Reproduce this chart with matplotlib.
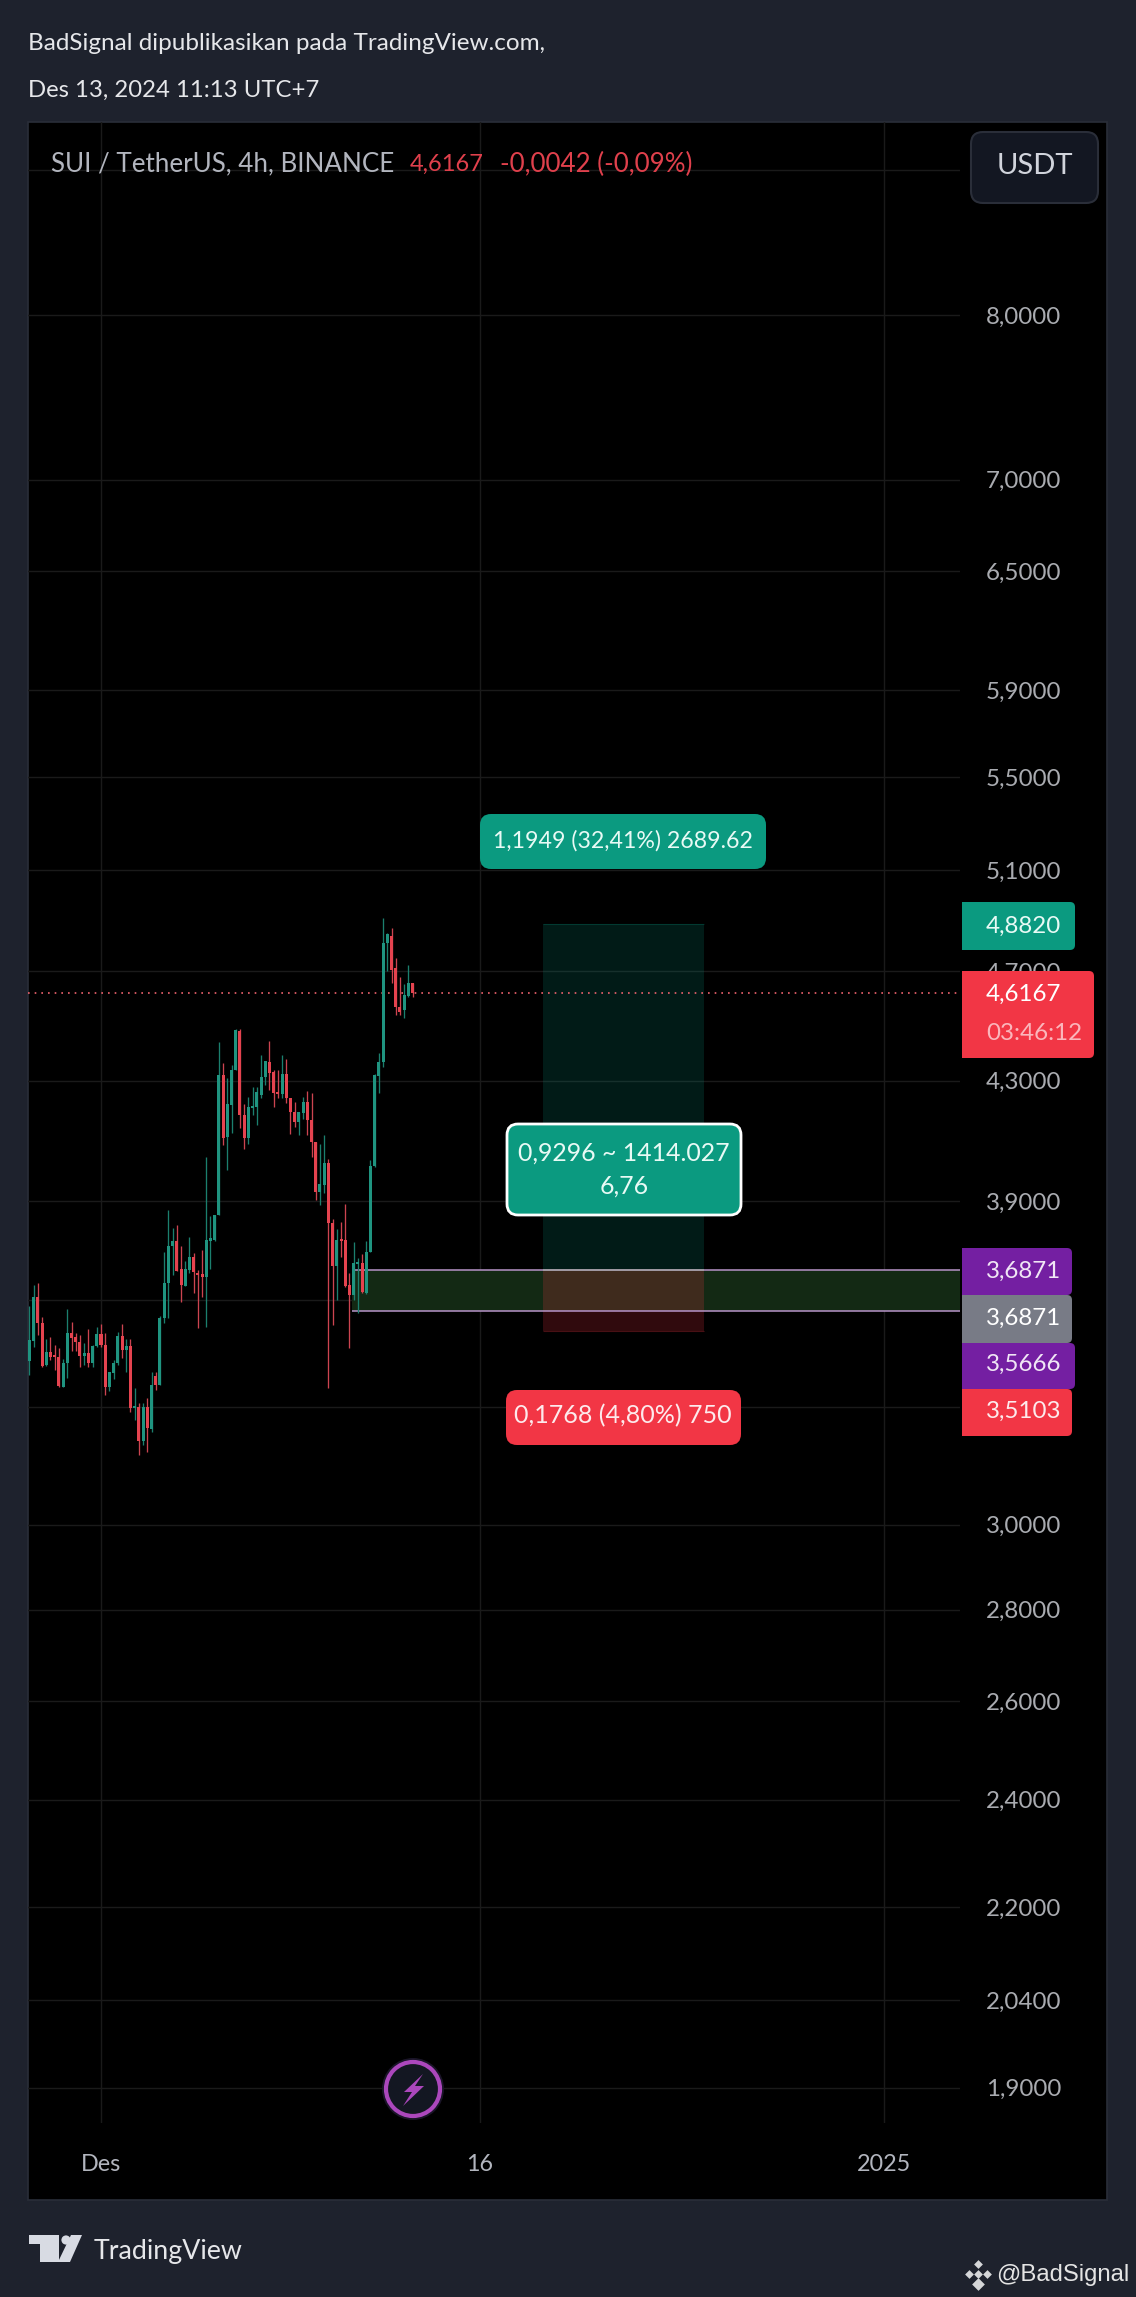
"""SUI / TetherUS 4h candles with a long position drawing, TradingView dark style"""

import matplotlib
matplotlib.use('Agg')

import matplotlib.pyplot as plt
from matplotlib.patches import Rectangle, FancyBboxPatch, Circle, Polygon

plt.rcParams['font.family'] = ['Lato', 'DejaVu Sans']

W, H = 1136, 2297

# candles, 4h each, index 0 is the 1st of December
first_candle = -17
opens = [3.426, 3.482, 3.609, 3.533, 3.415, 3.451, 3.443, 3.437, 3.355, 3.421,
         3.505, 3.493, 3.479, 3.440, 3.449, 3.421, 3.468, 3.502, 3.471, 3.355,
         3.393, 3.421, 3.496, 3.457, 3.468, 3.298, 3.301, 3.209, 3.301, 3.243,
         3.385, 3.360, 3.548, 3.649, 3.760, 3.776, 3.691, 3.640, 3.688, 3.727,
         3.679, 3.676, 3.667, 3.776, 3.779, 3.856, 4.320, 4.108, 4.216, 4.337,
         4.476, 4.182, 4.105, 4.206, 4.209, 4.250, 4.312, 4.365, 4.330, 4.260,
         4.253, 4.323, 4.240, 4.192, 4.158, 4.189, 4.226, 4.165, 4.091, 3.929,
         3.951, 4.022, 3.831, 3.700, 3.782, 3.779, 3.643, 3.614, 3.706, 3.709,
         3.620, 3.742, 4.012, 4.316, 4.365, 4.807, 4.834, 4.711, 4.564, 4.553,
         4.605, 4.654]
highs = [3.583, 3.643, 3.650, 3.551, 3.488, 3.493, 3.471, 3.462, 3.432, 3.574,
         3.536, 3.505, 3.499, 3.477, 3.516, 3.471, 3.522, 3.530, 3.505, 3.396,
         3.429, 3.507, 3.530, 3.488, 3.488, 3.352, 3.312, 3.312, 3.325, 3.396,
         3.396, 3.552, 3.742, 3.872, 3.816, 3.825, 3.760, 3.715, 3.788, 3.739,
         3.688, 3.748, 4.042, 3.853, 3.856, 4.437, 4.361, 4.309, 4.354, 4.484,
         4.484, 4.219, 4.243, 4.277, 4.277, 4.390, 4.368, 4.440, 4.337, 4.337,
         4.390, 4.375, 4.240, 4.226, 4.192, 4.243, 4.264, 4.257, 4.091, 4.085,
         4.115, 4.035, 3.844, 3.813, 3.835, 3.891, 3.679, 3.773, 3.724, 3.736,
         3.776, 4.032, 4.323, 4.397, 4.905, 4.846, 4.866, 4.750, 4.676, 4.650,
         4.723, 4.654]
lows = [3.388, 3.465, 3.499, 3.409, 3.412, 3.429, 3.401, 3.355, 3.355, 3.379,
        3.454, 3.454, 3.409, 3.415, 3.409, 3.409, 3.465, 3.465, 3.331, 3.342,
        3.377, 3.415, 3.434, 3.396, 3.288, 3.266, 3.175, 3.201, 3.183, 3.235,
        3.347, 3.360, 3.533, 3.548, 3.673, 3.685, 3.594, 3.640, 3.679, 3.620,
        3.519, 3.609, 3.522, 3.691, 3.776, 3.856, 4.082, 3.999, 4.121, 4.337,
        4.138, 4.068, 4.085, 4.182, 4.148, 4.240, 4.284, 4.267, 4.209, 4.240,
        4.240, 4.223, 4.118, 4.141, 4.115, 4.168, 4.115, 4.042, 3.903, 3.888,
        3.926, 3.350, 3.527, 3.600, 3.727, 3.638, 3.462, 3.600, 3.562, 3.620,
        3.617, 3.742, 4.009, 4.257, 4.347, 4.699, 4.654, 4.534, 4.534, 4.523,
        4.601, 4.601]
closes = [3.485, 3.609, 3.533, 3.412, 3.451, 3.437, 3.437, 3.358, 3.421, 3.505,
          3.491, 3.479, 3.440, 3.449, 3.421, 3.468, 3.502, 3.471, 3.355, 3.396,
          3.421, 3.496, 3.457, 3.468, 3.298, 3.304, 3.209, 3.301, 3.245, 3.360,
          3.360, 3.548, 3.649, 3.760, 3.776, 3.685, 3.643, 3.691, 3.727, 3.682,
          3.673, 3.667, 3.779, 3.785, 3.856, 4.320, 4.105, 4.219, 4.337, 4.480,
          4.182, 4.105, 4.209, 4.212, 4.260, 4.312, 4.368, 4.326, 4.257, 4.253,
          4.323, 4.240, 4.192, 4.158, 4.192, 4.226, 4.165, 4.091, 3.929, 3.954,
          4.022, 3.831, 3.700, 3.779, 3.776, 3.640, 3.614, 3.709, 3.712, 3.623,
          3.742, 4.012, 4.320, 4.365, 4.807, 4.842, 4.703, 4.564, 4.545, 4.609,
          4.654, 4.6167]

# price scale and time scale, three labels sit behind tags in the original
price_ticks = [1.9, 2.04, 2.2, 2.4, 2.6, 2.8, 3.0, 3.3, 3.6, 3.9, 4.3, 4.7,
               5.1, 5.5, 5.9, 6.5, 7.0, 8.0, 9.0]
price_labels = ['1,9000', '2,0400', '2,2000', '2,4000', '2,6000', '2,8000', '3,0000', '', '',
                '3,9000', '4,3000', '4,7000', '5,1000', '5,5000', '5,9000', '6,5000',
                '7,0000', '8,0000', '']
time_ticks = [0, 90, 186]
time_labels = ['Des', '16', '2025']

# drawing levels
last_price = 4.6167
target_price = 4.8820
entry_price = 3.6871
stop_price = 3.5103
zone_low = 3.5666
zone_start = 59.6
position_start, position_end = 105, 143.2

# colours
bg_col = '#1e222d'
grid_col = '#1a1a1a'
up_col, up_wick = '#1f9480', '#1b7f6e'
down_col, down_wick = '#e5434f', '#cc4450'
green_col = '#0b9a80'
red_col = '#f23645'
purple_col = '#741fa2'
axis_col = '#a9abb0'

axis_fs = 17.4
text_fs = 16.7

fig = plt.figure(figsize=(W/100, H/100), facecolor=bg_col, dpi=100)


def pixel_axes(zorder):
    a = fig.add_axes([0, 0, 1, 1], zorder=zorder)
    a.set_xlim(0, W)
    a.set_ylim(H, 0)
    a.axis('off')
    return a


# black panel under the chart
back = pixel_axes(0)
back.add_patch(Rectangle((28, 122), 1079, 2078, fc='k', ec='#2a2e39', lw=1.2))

# chart pane, spans x 28..960 and y 122..2123 in pixels
ax = fig.add_axes([28/W, 1 - 2123/H, 932/W, 2001/H], zorder=1)
ax.patch.set_visible(False)
ax.set_yscale('log')
ax.set_xlim(-17.34, 204.0)
ax.set_ylim(1.8466, 9.355)
ax.set_yticks(price_ticks)
ax.set_yticklabels(price_labels)
ax.minorticks_off()
ax.set_xticks(time_ticks)
ax.set_xticklabels(time_labels)
ax.yaxis.tick_right()
ax.tick_params(axis='y', length=0, pad=18.7, labelsize=axis_fs, labelcolor=axis_col)
ax.tick_params(axis='x', length=0, pad=22, labelsize=16.8, labelcolor='#b2b5be')
ax.grid(True, color=grid_col, lw=1.0)
ax.set_axisbelow(True)
for s in ax.spines.values():
    s.set_visible(False)

# zone and position tool
ax.axhspan(zone_low, entry_price, xmin=(zone_start + 17.34)/221.34, fc='#132914', ec='none', zorder=2)
ax.fill_between([position_start, position_end], entry_price, target_price,
                color='#089981', alpha=0.18, lw=0, zorder=2.1)
ax.fill_between([position_start, position_end], stop_price, entry_price,
                color=red_col, alpha=0.2, lw=0, zorder=2.1)
ax.hlines(target_price, position_start, position_end, color='#089981', alpha=0.25, lw=0.8, zorder=2.2)
ax.hlines(stop_price, position_start, position_end, color=red_col, alpha=0.3, lw=0.8, zorder=2.2)
ax.hlines([entry_price, zone_low], zone_start, 204, color='#b794c8', lw=1.1, zorder=2.3)
ax.hlines(entry_price, position_start, position_end, color='#a3a3a3', lw=1.1, zorder=2.4)

ax.axhline(last_price, color='#f0636e', lw=1.2, ls=(0, (1, 3)), zorder=2.5)

# candles
idx = list(range(first_candle, first_candle + len(closes)))
for i, o, h, l, c in zip(idx, opens, highs, lows, closes):
    rising = c >= o
    ax.vlines(i, l, h, color=up_wick if rising else down_wick, lw=0.95, zorder=3)
    ax.bar(i, abs(c - o), bottom=min(o, c), width=0.72,
           color=up_col if rising else down_col, lw=0, zorder=3.1)

# everything that floats on top, in pixels
ov = pixel_axes(2)


def pill(x0, y0, x1, y1, col, r=10, ec='none', lw=0):
    ov.add_patch(FancyBboxPatch((x0, y0), x1 - x0, y1 - y0, boxstyle=f"round,pad=0,rounding_size={r}",
                                fc=col, ec=ec, lw=lw))


def tag(y0, y1, x1, col):
    # price tag, square on the left
    pill(962, y0, x1, y1, col, r=5)
    ov.add_patch(Rectangle((962, y0), 20, y1 - y0, fc=col, ec='none'))


def label(x, y, s, col='w', fs=text_fs, ha='left', **kw):
    ov.text(x, y, s, color=col, fontsize=fs, ha=ha, va='center', **kw)


# header and legend
label(28, 43, 'BadSignal dipublikasikan pada TradingView.com,', '#e6e7ea', 17.5)
label(28, 90, 'Des 13, 2024 11:13 UTC+7', '#e6e7ea', 17.2)
label(51, 164, 'SUI / TetherUS, 4h, BINANCE', '#b2b5be', 18.7)
label(410, 164, '4,6167', '#e0404c', 17.0)
label(500, 164, '-0,0042 (-0,09%)', '#e0404c', 18.7)

pill(971, 132, 1098, 203, '#131722', r=12, ec='#2a2e39', lw=1.5)
label(1035, 166, 'USDT', '#d1d4dc', 21, ha='center')

# position labels
pill(480, 814, 766, 869, green_col, r=11)
label(623, 841, '1,1949 (32,41%) 2689.62', '#e8faf5', text_fs, ha='center')
pill(507, 1124, 741, 1215, green_col, r=11, ec='w', lw=2)
label(624, 1153, '0,9296 ~ 1414.027', '#e8faf5', 17.9, ha='center')
label(624, 1186, '6,76', '#e8faf5', 17.9, ha='center')
pill(506, 1390, 741, 1445, red_col, r=11)
label(623, 1416, '0,1768 (4,80%) 750', '#fdeaec', 18, ha='center')

# price tags
tag(902, 950, 1075, green_col)
label(986, 926, '4,8820', '#e8faf5', axis_fs)
tag(971, 1058, 1094, red_col)
label(986, 994, '4,6167', 'w', axis_fs)
label(986, 1033, '03:46:12', '#fbb6bc', axis_fs)
tag(1248, 1295, 1072, purple_col)
label(986, 1271, '3,6871', '#f0e6f5', axis_fs)
tag(1295, 1343, 1072, '#787b86')
label(986, 1318, '3,6871', 'w', axis_fs)
tag(1343, 1389, 1075, purple_col)
label(986, 1364, '3,5666', '#f0e6f5', axis_fs)
tag(1389, 1436, 1072, red_col)
label(986, 1411, '3,5103', '#fdeaec', axis_fs)

# lightning badge
ov.add_patch(Circle((413, 2089), 31, fc='#1a1528', ec='none'))
ov.add_patch(Circle((413, 2089), 27, fc='#131722', ec='#ab47bc', lw=3))
ov.add_patch(Polygon([(423, 2074), (404, 2092), (412, 2092), (403, 2106), (424, 2086), (415, 2086)],
                     fc='#ab47bc', ec='none'))

# TradingView logo
logo_col = '#d8dbe3'
ov.add_patch(Polygon([(29, 2235), (59, 2235), (59, 2262), (40, 2262), (40, 2244), (29, 2244)],
                     fc=logo_col, ec='none'))
ov.add_patch(Circle((66, 2240), 4.6, fc=logo_col, ec='none'))
ov.add_patch(Polygon([(71, 2235), (82, 2235), (70, 2262), (58, 2262)], fc=logo_col, ec='none'))
label(94, 2251, 'TradingView', '#e6e7ea', 19.3)

# watermark
for dx, dy, s in [(0, -10, 20), (-9, 0, 20), (9, 0, 20), (0, 0, 20), (0, 10, 42)]:
    ov.scatter(978 + dx, 2274 + dy, s=s, marker='D', color='#d5d6d8', lw=0)
ov.text(996, 2275, '@BadSignal', color='#e4e4e4', fontsize=17.2, ha='left', va='center',
        family=['Liberation Sans', 'DejaVu Sans'])

fig.savefig('out.png', facecolor=fig.get_facecolor(), dpi=100, edgecolor='none')
